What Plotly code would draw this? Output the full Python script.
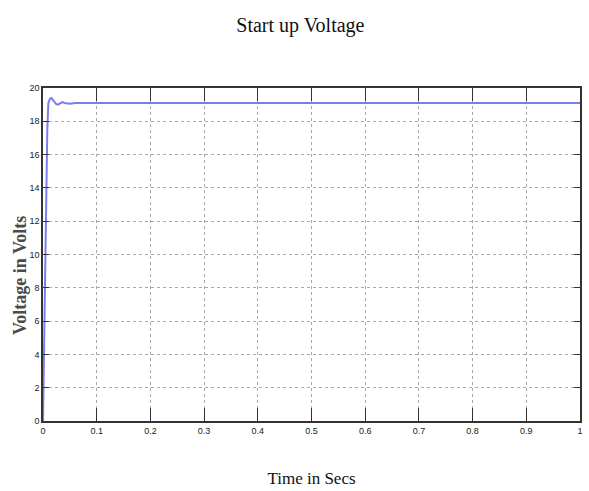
import plotly.graph_objects as go

# Start-up transient of the output voltage
time_s = [0.0, 0.002, 0.004, 0.006, 0.008, 0.010, 0.013, 0.016, 0.020, 0.024,
          0.028, 0.032, 0.036, 0.040, 0.050, 0.060, 0.080, 0.100, 0.200,
          0.300, 0.400, 0.500, 0.600, 0.700, 0.800, 0.900, 1.000]
voltage_v = [0.0, 4.5, 9.5, 14.0, 17.5, 19.1, 19.35, 19.4, 19.25, 19.05,
             19.0, 19.1, 19.15, 19.1, 19.05, 19.1, 19.1, 19.1, 19.1,
             19.1, 19.1, 19.1, 19.1, 19.1, 19.1, 19.1, 19.1]

x_ticks = [0, 0.1, 0.2, 0.3, 0.4, 0.5, 0.6, 0.7, 0.8, 0.9, 1]
x_tick_text = ["0", "0.1", "0.2", "0.3", "0.4", "0.5", "0.6", "0.7", "0.8", "0.9", "1"]
y_ticks = [0, 2, 4, 6, 8, 10, 12, 14, 16, 18, 20]

W, H = 589, 491
M = dict(l=43, r=6, t=88, b=68)

fig = go.Figure()
fig.add_trace(go.Scatter(
    x=time_s, y=voltage_v, mode="lines",
    line=dict(color="#7c7cf0", width=2),
    showlegend=False,
))

axis_common = dict(
    showline=True, linecolor="#333333", linewidth=1.5, mirror="allticks",
    ticks="inside", tickcolor="#333333",
    showgrid=True, gridcolor="#a8a8a8", griddash="dot", gridwidth=1,
    zeroline=False,
    tickfont=dict(family="Liberation Sans Narrow, Liberation Sans, sans-serif",
                  size=9, color="#222222"),
)

# y-axis label placed in paper pixels (sits slightly below the axis centre)
plot_h = H - M["t"] - M["b"]
label_y_px = 277
fig.add_annotation(
    text="<b>Voltage in Volts</b>", textangle=-90,
    xref="paper", yref="paper",
    x=(20 - M["l"]) / (W - M["l"] - M["r"]),
    y=(H - M["b"] - label_y_px) / plot_h,
    xanchor="center", yanchor="middle", showarrow=False,
    font=dict(family="Liberation Serif, Times New Roman, serif", size=18, color="#4a4a4a"),
)

fig.update_layout(
    width=W, height=H,
    margin=M,
    paper_bgcolor="white", plot_bgcolor="white",
    title=dict(text="Start up Voltage", x=0.51, xanchor="center", y=0.95, yanchor="middle",
               font=dict(family="Liberation Serif, Times New Roman, serif", size=20, color="#111111")),
    xaxis=dict(axis_common, range=[0, 1], tickvals=x_ticks, ticktext=x_tick_text, ticklen=13,
               title=dict(text="Time in Secs", standoff=38,
                          font=dict(family="Liberation Serif, Times New Roman, serif", size=17,
                                    color="#111111"))),
    yaxis=dict(axis_common, range=[0, 20], tickvals=y_ticks, ticklen=6),
)

fig.write_html("out.html")
